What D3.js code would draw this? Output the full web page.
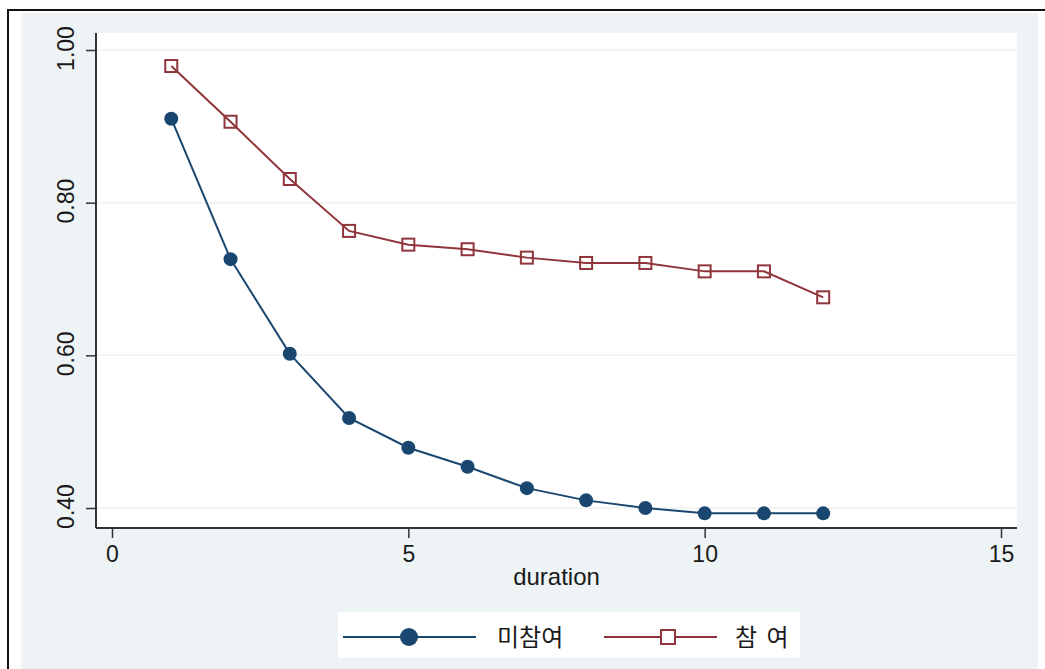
<!DOCTYPE html>
<html><head><meta charset="utf-8">
<script src="https://cdn.jsdelivr.net/npm/d3@7"></script>
<style>html,body{margin:0;padding:0;background:#fff;}svg{display:block;}</style>
</head><body>
<script>
const durations = [1,2,3,4,5,6,7,8,9,10,11,12];
const nonParticipant = [0.910,0.726,0.602,0.518,0.479,0.454,0.426,0.410,0.400,0.393,0.393,0.393];
const participant = [0.979,0.906,0.831,0.763,0.745,0.739,0.728,0.721,0.721,0.710,0.710,0.676];
const xTicks = [0,5,10,15];
const yTicks = [0.40,0.60,0.80,1.00];
const seriesNames = ["미참여","참 여"];
const xLabel = "duration";

const W = 1045, H = 669;
const svg = d3.select("body").append("svg").attr("width", W).attr("height", H);
const font = "Liberation Sans, Arial, sans-serif";
const cjk = "Noto Sans CJK KR, sans-serif";

// outer frame
svg.append("rect").attr("x",8).attr("y",10).attr("width",W).attr("height",H).attr("fill","#fff").attr("stroke","#111").attr("stroke-width",2);
// background
svg.append("rect").attr("x",21).attr("y",13).attr("width",1017).attr("height",H).attr("fill","#eef3f6");

const plot = {l:96, r:1017, t:33, b:528};
svg.append("rect").attr("x",plot.l).attr("y",plot.t).attr("width",plot.r-plot.l).attr("height",plot.b-plot.t).attr("fill","#fff");

const x = d3.scaleLinear().domain([0,15]).range([112,1001]);
const y = d3.scaleLinear().domain([0.40,1.00]).range([508,50]);

// gridlines
svg.append("g").selectAll("line").data(yTicks).join("line")
  .attr("x1",plot.l).attr("x2",plot.r).attr("y1",d=>y(d)).attr("y2",d=>y(d))
  .attr("stroke","#eef2f2").attr("stroke-width",1.5);

// axes
const yAxis = d3.axisLeft(y).tickValues(yTicks).tickFormat(d3.format(".2f")).tickSize(10).tickPadding(12);
const gy = svg.append("g").attr("transform",`translate(${plot.l},0)`).call(yAxis);
gy.select(".domain").attr("d",`M0,${plot.t}V${plot.b}`).attr("stroke","#333").attr("stroke-width",2);
gy.selectAll(".tick line").attr("stroke","#333").attr("stroke-width",1.5);
gy.selectAll(".tick text").attr("font-family",font).attr("font-size",23).attr("fill","#1a1a1a")
  .attr("transform","rotate(-90)")
  .attr("x",2).attr("y",-22).attr("text-anchor","middle").attr("dy",0);

const xAxis = d3.axisBottom(x).tickValues(xTicks).tickSize(10).tickPadding(8);
const gx = svg.append("g").attr("transform",`translate(0,${plot.b})`).call(xAxis);
gx.select(".domain").attr("d",`M${plot.l},0H${plot.r}`).attr("stroke","#333").attr("stroke-width",2);
gx.selectAll(".tick line").attr("stroke","#333").attr("stroke-width",1.5);
gx.selectAll(".tick text").attr("font-family",font).attr("font-size",23).attr("fill","#1a1a1a");

svg.append("text").attr("x",x(7.5)).attr("y",585).attr("text-anchor","middle")
  .attr("font-family",font).attr("font-size",24).attr("fill","#1a1a1a").text(xLabel);

const blue = "#1a476f", red = "#90353b";
const line = d3.line().x((d,i)=>x(durations[i])).y(d=>y(d));

svg.append("path").datum(nonParticipant).attr("d",line).attr("fill","none").attr("stroke",blue).attr("stroke-width",2);
svg.append("path").datum(participant).attr("d",line).attr("fill","none").attr("stroke",red).attr("stroke-width",2);

svg.append("g").selectAll("circle").data(nonParticipant).join("circle")
  .attr("cx",(d,i)=>x(durations[i])).attr("cy",d=>y(d)).attr("r",7).attr("fill",blue);
svg.append("g").selectAll("rect").data(participant).join("rect")
  .attr("x",(d,i)=>x(durations[i])-6).attr("y",d=>y(d)-6).attr("width",12).attr("height",12)
  .attr("fill","none").attr("stroke",red).attr("stroke-width",2);

// legend
const lg = svg.append("g");
lg.append("rect").attr("x",338).attr("y",612).attr("width",462).attr("height",46).attr("fill","#fff");
const ly = 637;
lg.append("line").attr("x1",343).attr("x2",476).attr("y1",ly).attr("y2",ly).attr("stroke",blue).attr("stroke-width",2);
lg.append("circle").attr("cx",409).attr("cy",ly).attr("r",9).attr("fill",blue);
lg.append("text").attr("x",497).attr("y",ly+9).attr("font-family",cjk).attr("font-size",24).attr("fill","#1a1a1a").text(seriesNames[0]);
lg.append("line").attr("x1",604).attr("x2",717).attr("y1",ly).attr("y2",ly).attr("stroke",red).attr("stroke-width",2);
lg.append("rect").attr("x",661).attr("y",ly-7).attr("width",14).attr("height",14).attr("fill","#fff").attr("stroke",red).attr("stroke-width",2);
lg.append("text").attr("x",735).attr("y",ly+9).attr("font-family",cjk).attr("font-size",24).attr("fill","#1a1a1a").attr("word-spacing",4).attr("xml:space","preserve").text(seriesNames[1]);
</script>
</body></html>
